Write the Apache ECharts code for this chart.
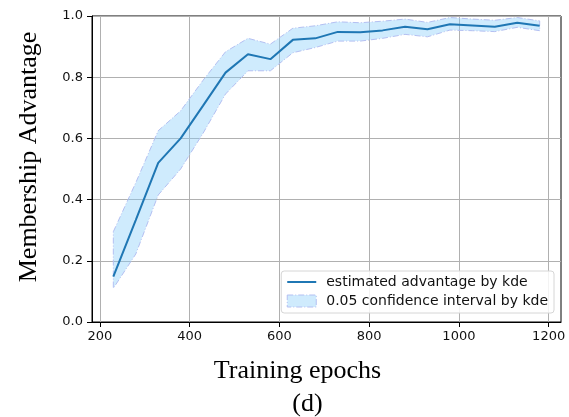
<!DOCTYPE html>
<html>
<head>
<meta charset="utf-8">
<script src="https://cdn.jsdelivr.net/npm/echarts@6/dist/echarts.min.js"></script>
<style>
html,body{margin:0;padding:0;background:#fff;}
#chart{width:569px;height:417px;}
</style>
</head>
<body>
<div id="chart"></div>
<script>
const epochs = [230, 280, 330, 380, 430, 480, 530, 580, 630, 680, 730, 780, 830, 880, 930, 980, 1030, 1080, 1130, 1180];
const estimated = [0.148, 0.333, 0.520, 0.600, 0.707, 0.815, 0.875, 0.859, 0.922, 0.927, 0.948, 0.947, 0.953, 0.965, 0.957, 0.973, 0.969, 0.965, 0.978, 0.968];
const upperBound = [0.295, 0.455, 0.625, 0.690, 0.790, 0.883, 0.927, 0.908, 0.960, 0.968, 0.981, 0.978, 0.983, 0.990, 0.979, 0.995, 0.990, 0.986, 0.995, 0.984];
const lowerBound = [0.110, 0.222, 0.415, 0.500, 0.617, 0.745, 0.821, 0.821, 0.880, 0.897, 0.918, 0.918, 0.927, 0.940, 0.932, 0.954, 0.952, 0.949, 0.963, 0.952];
const xTicks = [200, 400, 600, 800, 1000, 1200];
const yTicks = [0, 0.2, 0.4, 0.6, 0.8, 1.0];
const lineName = 'estimated advantage by kde';
const bandName = '0.05 confidence interval by kde';
const xTitle = 'Training epochs';
const yTitle = 'Membership Advantage';
const caption = '(d)';

const bandFill = 'rgba(135,206,250,0.4)';
const bandEdge = '#b4c0f2';

const chart = echarts.init(document.getElementById('chart'), null, {renderer: 'canvas'});
const option = {
  animation: false,
  backgroundColor: '#fff',
  grid: {left: 92, top: 16, width: 469, height: 306, show: true, borderColor: '#000', borderWidth: 1, backgroundColor: 'transparent'},
  xAxis: {
    type: 'value', min: 182.5, max: 1227.5,
    axisLine: {show: true, lineStyle: {color: '#000', width: 1}},
    axisTick: {show: true, length: 5, lineStyle: {color: '#000'}, customValues: xTicks},
    axisLabel: {customValues: xTicks, margin: 8, fontFamily: 'DejaVu Sans', fontSize: 13, color: '#111', formatter: v => String(v)},
    splitLine: {show: true, lineStyle: {color: '#b0b0b0', width: 1}}
  },
  yAxis: {
    type: 'value', min: 0, max: 1, interval: 0.2,
    axisLine: {show: true, lineStyle: {color: '#000', width: 1}},
    axisTick: {show: true, length: 5, lineStyle: {color: '#000'}},
    axisLabel: {margin: 9, fontFamily: 'DejaVu Sans', fontSize: 13, color: '#111', formatter: v => v.toFixed(1)},
    splitLine: {show: true, lineStyle: {color: '#b0b0b0', width: 1}}
  },
  legend: {
    right: 15, bottom: 104, orient: 'vertical', align: 'left',
    backgroundColor: 'rgba(255,255,255,0.85)', borderColor: '#d6d6d6', borderWidth: 1, borderRadius: 3,
    padding: [4, 6, 5, 5], itemGap: 5, itemWidth: 29, itemHeight: 12,
    textStyle: {fontFamily: 'DejaVu Sans', fontSize: 14, color: '#111', padding: [0, 0, 0, 5]},
    data: [
      {name: lineName, itemStyle: {opacity: 0}},
      {name: bandName, icon: 'rect', itemStyle: {color: bandFill, borderColor: bandEdge, borderWidth: 1, borderType: [6, 2, 1, 2]}}
    ]
  },
  graphic: [
    {type: 'text', style: {text: xTitle, x: 297.5, y: 371, textAlign: 'center', textVerticalAlign: 'middle', font: '26px "Liberation Serif"', fill: '#000'}},
    {type: 'text', style: {text: caption, x: 307.5, y: 404, textAlign: 'center', textVerticalAlign: 'middle', font: '26px "Liberation Serif"', fill: '#000'}},
    {type: 'text', rotation: Math.PI / 2, x: 29, y: 157, style: {text: yTitle, x: 0, y: 0, textAlign: 'center', textVerticalAlign: 'middle', font: '26px "Liberation Serif"', fill: '#000'}}
  ],
  series: [
    {
      name: bandName, type: 'custom', z: 1,
      itemStyle: {color: bandFill, borderColor: bandEdge},
      data: [[epochs[0], lowerBound[0]]],
      encode: {x: 0, y: 1},
      renderItem: function (params, api) {
        if (params.dataIndex !== 0) return;
        const pts = [];
        for (let i = 0; i < epochs.length; i++) pts.push(api.coord([epochs[i], upperBound[i]]));
        for (let i = epochs.length - 1; i >= 0; i--) pts.push(api.coord([epochs[i], lowerBound[i]]));
        return {type: 'polygon', shape: {points: pts}, style: {fill: bandFill, stroke: bandEdge, lineWidth: 1, lineDash: [6, 2, 1, 2]}};
      }
    },
    {
      name: lineName, type: 'line', z: 3,
      data: epochs.map((x, i) => [x, estimated[i]]),
      symbol: 'none', showSymbol: false,
      lineStyle: {color: '#1f77b4', width: 2},
      itemStyle: {color: '#1f77b4'}
    }
  ]
};
chart.setOption(option);
</script>
</body>
</html>
